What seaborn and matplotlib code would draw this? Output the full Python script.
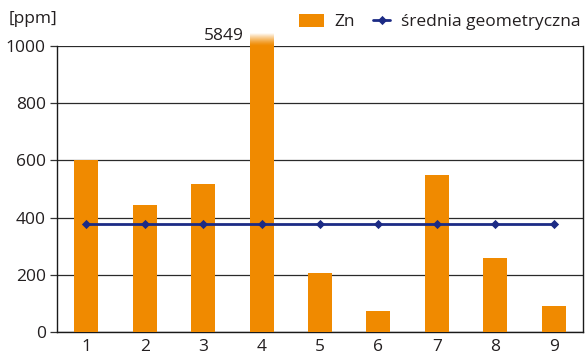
import numpy as np
import pandas as pd
import matplotlib
matplotlib.use("Agg")
import matplotlib.pyplot as plt
from matplotlib.patches import Rectangle
from matplotlib.lines import Line2D
from matplotlib.legend_handler import HandlerLine2D
import seaborn as sns

# Zinc content per sample [ppm] and the geometric mean of the set
samples = ["1", "2", "3", "4", "5", "6", "7", "8", "9"]
zn = [600, 444, 517, 5849, 206, 73, 549, 259, 91]
geo_mean = [378, 378, 378, 378, 378, 378, 378, 378, 378]
y_ticks = [0, 200, 400, 600, 800, 1000]

ORANGE = "#F08A00"
NAVY = "#1C2B85"
TEXT = "#231F20"
FS = 12.5


class ShortLineHandler(HandlerLine2D):
    """Legend line drawn shorter than the slot, aligned to its right end."""

    def __init__(self, frac=0.7, **kw):
        super().__init__(**kw)
        self.frac = frac

    def create_artists(self, legend, orig_handle, xdescent, ydescent,
                       width, height, fontsize, trans):
        w = width * self.frac
        return super().create_artists(legend, orig_handle,
                                      xdescent - (width - w), ydescent,
                                      w, height, fontsize, trans)


sns.set_theme(style="white")
plt.rcParams["font.family"] = ["Open Sans", "DejaVu Sans"]

df = pd.DataFrame({"sample": samples, "zn": zn, "geo": geo_mean})

fig = plt.figure(figsize=(5.85, 3.56), dpi=100)
ax = fig.add_axes([0.0974, 0.0674, 0.8992, 0.8034])

sns.barplot(data=df, x="sample", y="zn", color=ORANGE, saturation=1,
            width=0.41, ax=ax, zorder=3, label="Zn", linewidth=0,
            edgecolor="none")
sns.pointplot(data=df, x="sample", y="geo", color=NAVY, markers="D",
              markersize=3.2, linewidth=2.0, ax=ax, zorder=4,
              label="średnia geometryczna")

ymax = 1000
over = 1045

# Bar exceeding the scale: let it poke above the frame and fade out
for bar, v in zip(ax.patches, zn):
    if v > ymax:
        bx, bw = bar.get_x(), bar.get_width()
        bar.set_clip_path(Rectangle((bx, 0), bw, over, transform=ax.transData))
        grad = np.zeros((64, 2, 4))
        grad[..., :3] = 1.0
        grad[..., 3] = np.linspace(1, 0, 64)[:, None] ** 1.3
        ax.imshow(grad, extent=(bx, bx + bw, ymax, over), aspect="auto",
                  origin="upper", zorder=3.5, clip_on=False)
        ax.text(bx - 0.1, ymax + 6, f"{v}", ha="right", va="bottom",
                fontsize=FS, color=TEXT)
ax.set_ylim(0, ymax)
ax.set_xlim(-0.5, len(samples) - 0.5)

ax.set_yticks(y_ticks)
ax.yaxis.grid(True, color="#2a2a2a", linewidth=0.9, zorder=0)
ax.set_axisbelow(True)

ax.set_xlabel("")
ax.set_ylabel("")
ax.set_xticks(range(len(samples)))
ax.set_xticklabels(samples)
ax.set_xticks(np.arange(-0.5, len(samples)), minor=True)
ax.tick_params(axis="x", which="major", length=0, pad=5, labelsize=FS,
               labelcolor=TEXT)
ax.tick_params(axis="x", which="minor", length=8, direction="inout",
               width=0.9, color="#333333")
ax.tick_params(axis="y", which="major", length=5, direction="out",
               width=0.9, color="#333333", pad=3, labelsize=FS,
               labelcolor=TEXT, left=True)

for side in ["left", "bottom", "right"]:
    ax.spines[side].set_visible(True)
    ax.spines[side].set_color("#1a1a1a")
    ax.spines[side].set_linewidth(1.0)
ax.spines["top"].set_visible(False)

fig.text(9 / 585, 1 - 19 / 356, "[ppm]", ha="left", va="center",
         fontsize=FS, color=TEXT)

handles, labels = ax.get_legend_handles_labels()
order = [labels.index("Zn"), labels.index("średnia geometryczna")]
hmap = {h: ShortLineHandler(frac=0.7) for h in handles if isinstance(h, Line2D)}
leg = ax.legend([handles[i] for i in order], [labels[i] for i in order],
                loc="upper right", bbox_to_anchor=(1 - 3 / 526, 1 + 32 / 286),
                ncol=2, frameon=False, fontsize=FS, handlelength=1.4,
                handleheight=0.75, columnspacing=0.65, handletextpad=0.6,
                borderaxespad=0, borderpad=0, handler_map=hmap)
for t in leg.get_texts():
    t.set_color(TEXT)

fig.savefig("out.png", dpi=100)
